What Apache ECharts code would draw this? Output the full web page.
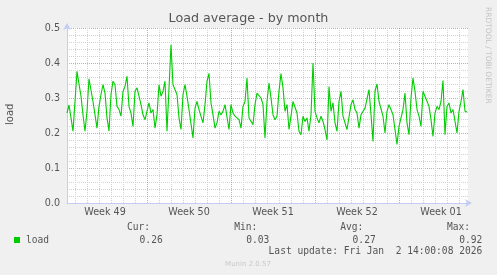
<!DOCTYPE html>
<html>
<head>
<meta charset="utf-8">
<script src="https://cdn.jsdelivr.net/npm/echarts@6/dist/echarts.min.js"></script>
<style>
html,body{margin:0;padding:0;background:#f0f0f0;}
#c{width:497px;height:275px;}
</style>
</head>
<body>
<div id="c"></div>
<script>
// Time axis in hours, relative to Monday 00:00 of week 50 (first red line)
const startHour = -160;
const stepHours = 4;
const axisMin = -160;
const axisMax = 642;
const weekLabels = ['Week 49', 'Week 50', 'Week 51', 'Week 52', 'Week 01'];
const weekLabelHours = [-84, 84, 252, 420, 588];
const weekLineHours = [0, 168, 336, 504];
const yTicks = [0.0, 0.1, 0.2, 0.3, 0.4, 0.5];
const statLabels = ['Cur:', 'Min:', 'Avg:', 'Max:'];
const statValues = ['0.26', '0.03', '0.27', '0.92'];
const seriesName = 'load';
const loadValues = [
  0.257, 0.28, 0.243, 0.205, 0.29, 0.376, 0.34, 0.305, 0.252, 0.205, 0.262, 0.355, 0.355, 0.29, 0.252, 0.214, 0.276, 0.31, 0.338, 0.314, 0.243, 0.206, 0.31, 0.348, 0.338, 0.276,
  0.267, 0.248, 0.319, 0.333, 0.362, 0.276, 0.257, 0.219, 0.319, 0.329, 0.329, 0.281, 0.252, 0.238, 0.243, 0.286, 0.257, 0.267, 0.214, 0.252, 0.338, 0.305, 0.319, 0.348, 0.205,
  0.21, 0.452, 0.338, 0.338, 0.31, 0.243, 0.21, 0.31, 0.338, 0.305, 0.267, 0.262, 0.186, 0.271, 0.29, 0.267, 0.271, 0.229, 0.281, 0.348, 0.37, 0.286, 0.252, 0.214, 0.229,
  0.262, 0.252, 0.262, 0.281, 0.286, 0.21, 0.281, 0.257, 0.248, 0.248, 0.238, 0.214, 0.276, 0.29, 0.357, 0.243, 0.238, 0.224, 0.281, 0.314, 0.31, 0.30, 0.281, 0.186, 0.29,
  0.343, 0.30, 0.252, 0.238, 0.248, 0.32, 0.37, 0.329, 0.262, 0.281, 0.21, 0.248, 0.29, 0.29, 0.257, 0.205, 0.195, 0.248, 0.233, 0.243, 0.205, 0.252, 0.40, 0.262, 0.243,
  0.229, 0.248, 0.233, 0.21, 0.18, 0.333, 0.262, 0.286, 0.229, 0.205, 0.29, 0.319, 0.248, 0.252, 0.21, 0.21, 0.281, 0.295, 0.267, 0.257, 0.214, 0.252, 0.248, 0.271, 0.267,
  0.324, 0.252, 0.176, 0.32, 0.34, 0.29, 0.286, 0.248, 0.20, 0.262, 0.281, 0.276, 0.252, 0.252, 0.167, 0.219, 0.243, 0.267, 0.314, 0.229, 0.195, 0.30, 0.357, 0.319, 0.267,
  0.248, 0.219, 0.319, 0.305, 0.31, 0.276, 0.238, 0.19, 0.257, 0.276, 0.267, 0.29, 0.35, 0.195, 0.276, 0.286, 0.257, 0.267, 0.267, 0.20, 0.262, 0.29, 0.324, 0.262, 0.26
];

const seriesData = loadValues.map((v, i) => [startHour + i * stepHours, v]);

// day grid lines at every midnight inside the window (week starts get the major line)
const dayLineHours = [];
for (let h = Math.ceil(axisMin / 24) * 24; h < axisMax; h += 24) {
  if (h > axisMin && weekLineHours.indexOf(h) < 0) dayLineHours.push(h);
}

const labelMap = {};
weekLabelHours.forEach((h, i) => { labelMap[h] = weekLabels[i]; });

const FONT = 'DejaVu Sans';
const MONO = 'DejaVu Sans Mono';
const TXT = '#555555';
const AXISC = '#C4CCF4';
const MINOR = '#d2d2d2';
const MAJOR = 'rgb(255, 60, 60)';

const chart = echarts.init(document.getElementById('c'), null, {renderer: 'canvas'});
const graphics = [];
graphics.push({type: 'text', left: 'center', top: 12, style: {text: 'Load average - by month', font: '12.7px "' + FONT + '"', fill: TXT}});
graphics.push({type: 'text', x: 5, y: 125, rotation: Math.PI / 2, style: {text: 'load', font: '10px "' + FONT + '"', fill: TXT}});
graphics.push({type: 'text', x: 492, y: 7, rotation: -Math.PI / 2, style: {text: 'RRDTOOL / TOBI OETIKER', font: '7.5px "' + FONT + '"', fill: '#c4c4c4'}});
const headRight = [150, 257.3, 363.3, 470];
const valRight = [162.7, 269.3, 375.7, 482.3];
statLabels.forEach((t, i) => {
  graphics.push({type: 'text', x: headRight[i], y: 227.7, style: {text: t, font: '9.6px "' + MONO + '"', fill: TXT, align: 'right', verticalAlign: 'middle'}});
  graphics.push({type: 'text', x: valRight[i], y: 240, style: {text: statValues[i], font: '9.6px "' + MONO + '"', fill: TXT, align: 'right', verticalAlign: 'middle'}});
});
graphics.push({type: 'text', x: 482.3, y: 251.7, style: {text: 'Last update: Fri Jan  2 14:00:08 2026', font: '9.6px "' + MONO + '"', fill: TXT, align: 'right', verticalAlign: 'middle'}});
graphics.push({type: 'text', x: 248, y: 264, style: {text: 'Munin 2.0.57', font: '7px "' + FONT + '"', fill: '#c8c8c8', align: 'center', verticalAlign: 'middle'}});

chart.setOption({
  animation: false,
  backgroundColor: '#f0f0f0',
  grid: {left: 67, top: 28, width: 401, height: 175, show: true, backgroundColor: '#ffffff', borderWidth: 0},
  legend: {
    left: 14, top: 234, padding: 0, itemWidth: 6, itemHeight: 6, icon: 'rect',
    data: [{name: seriesName, itemStyle: {color: '#00CC00'}}],
    textStyle: {fontFamily: MONO, fontSize: 9.6, color: TXT, lineHeight: 12, padding: [0, 0, 0, 1]}
  },
  xAxis: [
    {
      type: 'value', min: axisMin, max: axisMax, position: 'bottom',
      axisLine: {show: true, onZero: false, lineStyle: {color: AXISC, width: 1}, symbol: ['none', 'arrow'], symbolSize: [6, 7], symbolOffset: [0, 4]},
      axisTick: {show: false, customValues: dayLineHours},
      axisLabel: {show: false},
      splitLine: {show: true, lineStyle: {color: MINOR, type: [1, 1], width: 1}}
    },
    {
      type: 'value', min: axisMin, max: axisMax, position: 'bottom',
      axisLine: {show: false, onZero: false},
      axisTick: {show: false, customValues: weekLineHours},
      axisLabel: {show: true, customValues: weekLabelHours, margin: 4, color: TXT, fontFamily: FONT, fontSize: 9.6,
        formatter: v => labelMap[v] || ''},
      splitLine: {show: true, lineStyle: {color: MAJOR, opacity: 0.55, type: [1, 1], width: 1}}
    }
  ],
  yAxis: {
    type: 'value', min: yTicks[0], max: yTicks[yTicks.length - 1], interval: 0.1,
    axisLine: {show: true, onZero: false, lineStyle: {color: AXISC, width: 1}, symbol: ['none', 'arrow'], symbolSize: [6, 7], symbolOffset: [0, 5]},
    axisTick: {show: false},
    axisLabel: {margin: 7, color: TXT, fontFamily: FONT, fontSize: 9.6, formatter: v => v.toFixed(1)},
    splitLine: {show: true, lineStyle: {color: MAJOR, opacity: 0.55, type: [1, 1], width: 1}},
    minorTick: {show: false, splitNumber: 5},
    minorSplitLine: {show: true, lineStyle: {color: MINOR, type: [1, 1], width: 1}}
  },
  series: [{
    name: seriesName, type: 'line', xAxisIndex: 0, data: seriesData,
    showSymbol: false, symbol: 'none', smooth: false,
    lineStyle: {color: '#00CC00', width: 1.1}, itemStyle: {color: '#00CC00'}, z: 5
  }],
  graphic: graphics
});
</script>
</body>
</html>
